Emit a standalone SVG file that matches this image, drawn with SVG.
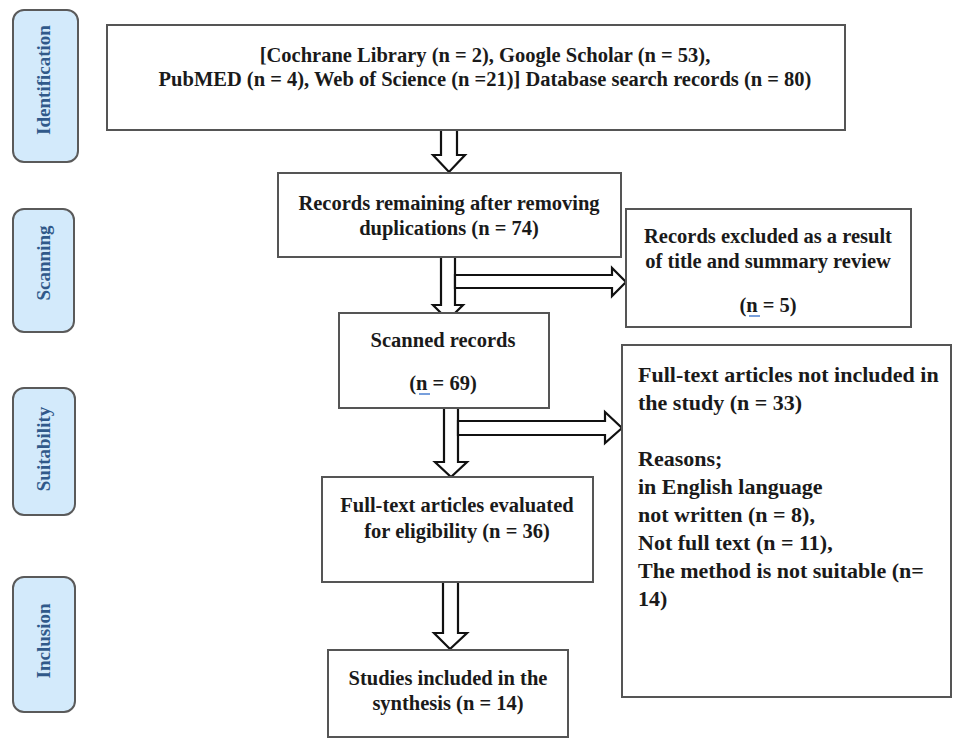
<svg xmlns="http://www.w3.org/2000/svg" width="955" height="740" viewBox="0 0 955 740">
<style>
.stage rect{fill:#d3eafb;stroke:#5a5a5a;stroke-width:2}
.stage text{font-family:"Liberation Serif","Times New Roman",serif;font-weight:bold;font-size:19px;fill:#30598a;text-anchor:middle}
.box rect{fill:#fff;stroke:#555;stroke-width:2}
.box text{font-family:"Liberation Serif","Times New Roman",serif;font-weight:bold;font-size:20.5px;fill:#1a1a1a;text-anchor:middle}
.box text.l{text-anchor:start;font-size:22px}
.arr polygon{fill:#fff;stroke:#111;stroke-width:2.2;stroke-linejoin:miter}
.sq{stroke:#4a7fd0;stroke-width:1.5}
</style>
<rect width="955" height="740" fill="#fff"/>

<g id="stage-identification" class="stage">
<rect x="13" y="10" width="65" height="152" rx="11"/>
<text transform="translate(50,80) rotate(-90)">Identification</text>
</g>
<g id="stage-scanning" class="stage">
<rect x="13" y="209" width="61" height="123" rx="11"/>
<text transform="translate(50,263) rotate(-90)">Scanning</text>
</g>
<g id="stage-suitability" class="stage">
<rect x="13" y="388" width="62" height="127" rx="11"/>
<text transform="translate(50,449) rotate(-90)">Suitability</text>
</g>
<g id="stage-inclusion" class="stage">
<rect x="13" y="577" width="62" height="135" rx="11"/>
<text transform="translate(50,641) rotate(-90)">Inclusion</text>
</g>

<g id="connectors" class="arr">
<polygon points="441,128 457,128 457,155 465,155 449,172 433,155 441,155"/>
<polygon points="441,257 455,257 455,305 463,305 448,320 433,305 441,305"/>
<polygon points="455,275 612,275 612,268 626,282 612,296 612,288 455,288"/>
<polygon points="444,408 458,408 458,462 467,462 451,477 435,462 444,462"/>
<polygon points="458,421 605,421 605,412 622,428 605,443 605,435 458,435"/>
<polygon points="443,582 458,582 458,633 467,633 450,649 434,633 443,633"/>
</g>

<g id="node-database" class="box">
<rect x="107" y="25" width="738" height="105"/>
<text x="485" y="62">[Cochrane Library (n = 2), Google Scholar (n = 53),</text>
<text x="485" y="86">PubMED (n = 4), Web of Science (n =21)] Database search records (n = 80)</text>
</g>

<g id="node-remaining" class="box">
<rect x="278" y="173" width="343" height="84"/>
<text x="449" y="210">Records remaining after removing</text>
<text x="449" y="235">duplications (n = 74)</text>
</g>

<g id="node-excluded" class="box">
<rect x="626" y="209" width="285" height="118"/>
<text x="768" y="243">Records excluded as a result</text>
<text x="768" y="268">of title and summary review</text>
<text x="768" y="312">(n = 5)</text>
<line class="sq" x1="749" y1="316" x2="760" y2="316"/>
</g>

<g id="node-scanned" class="box">
<rect x="339" y="313" width="210" height="95"/>
<text x="443" y="347">Scanned records</text>
<text x="443" y="390">(n = 69)</text>
<line class="sq" x1="419" y1="394" x2="430" y2="394"/>
</g>

<g id="node-notincluded" class="box">
<rect x="622" y="345" width="329" height="352"/>
<text class="l" x="638" y="382">Full-text articles not included in</text>
<text class="l" x="638" y="410">the study (n = 33)</text>
<text class="l" x="638" y="466">Reasons;</text>
<text class="l" x="638" y="494">in English language</text>
<text class="l" x="638" y="522">not written (n = 8),</text>
<text class="l" x="638" y="550">Not full text (n = 11),</text>
<text class="l" x="638" y="578">The method is not suitable (n=</text>
<text class="l" x="638" y="606">14)</text>
</g>

<g id="node-eligibility" class="box">
<rect x="322" y="477" width="271" height="105"/>
<text x="457" y="512">Full-text articles evaluated</text>
<text x="457" y="538">for eligibility (n = 36)</text>
</g>

<g id="node-included" class="box">
<rect x="328" y="650" width="240" height="87"/>
<text x="448" y="685">Studies included in the</text>
<text x="448" y="710">synthesis (n = 14)</text>
</g>
</svg>
